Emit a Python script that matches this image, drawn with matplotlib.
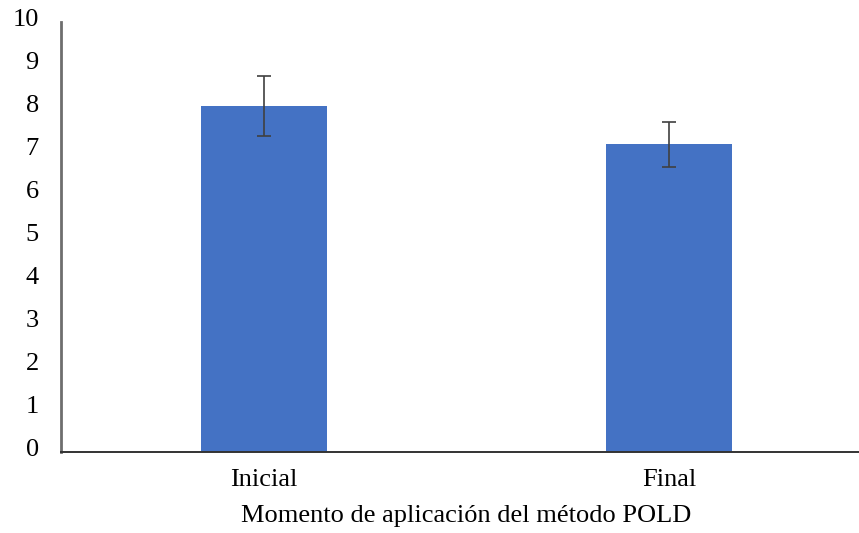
import matplotlib.pyplot as plt
from matplotlib.transforms import ScaledTranslation

# data
categories = ['Inicial', 'Final']
means = [8.05, 7.15]
errors = [0.70, 0.53]

plt.rcParams['font.family'] = ['Liberation Serif', 'DejaVu Serif']

fig = plt.figure(figsize=(8.59, 5.33), dpi=100)
ax = fig.add_axes([0.071, 0.152, 0.944, 0.807])

x = range(len(categories))
ax.bar(x, means, width=0.31, color='#4472C4', zorder=2)
ax.errorbar(x, means, yerr=errors, fmt='none', ecolor='#404040',
            elinewidth=1.2, capsize=5, capthick=1.2, zorder=3)

ax.set_xlim(-0.5, 1.5)
ax.set_ylim(0, 10)
ax.set_yticks(range(0, 11))
ax.set_xticks(list(x))
ax.set_xticklabels(categories)
ax.tick_params(axis='y', length=0, pad=16, labelsize=19)
ax.tick_params(axis='x', length=0, pad=12, labelsize=19)
# y labels sit a little above their gridline in the original
shift = ScaledTranslation(0, 3 / 72, fig.dpi_scale_trans)
for lbl in ax.get_yticklabels():
    lbl.set_transform(lbl.get_transform() + shift)

for s in ['top', 'right']:
    ax.spines[s].set_visible(False)
ax.spines['left'].set_color('#6e6e6e')
ax.spines['left'].set_linewidth(2.0)
ax.spines['bottom'].set_color('#333333')
ax.spines['bottom'].set_linewidth(1.4)

ax.set_xlabel('Momento de aplicación del método POLD', fontsize=19, labelpad=10)

fig.savefig('out.png', dpi=100)
